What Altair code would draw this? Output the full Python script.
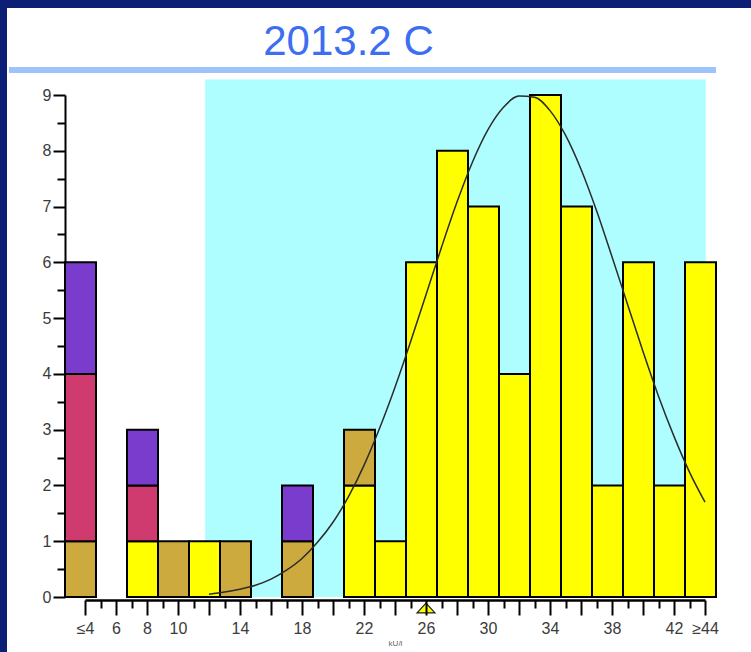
import altair as alt
import pandas as pd

# ---- data -------------------------------------------------------------
chart_title = "2013.2 C"
unit_label = "kU/l"

# histogram bins (kU/l); first and last bins are open-ended (≤4, ≥44)
bin_centres = [4, 6, 8, 10, 12, 14, 16, 18, 20, 22, 24, 26, 28, 30, 32, 34, 36, 38, 40, 42, 44]
groups = ["yellow", "ochre", "crimson", "violet"]
group_colours = ["#ffff00", "#cdaa3d", "#cf3b6f", "#7a3ccc"]
counts_yellow  = [0, 0, 1, 0, 1, 0, 0, 0, 0, 2, 1, 6, 8, 7, 4, 9, 7, 2, 6, 2, 6]
counts_ochre   = [1, 0, 0, 1, 0, 1, 0, 1, 0, 1, 0, 0, 0, 0, 0, 0, 0, 0, 0, 0, 0]
counts_crimson = [3, 0, 1, 0, 0, 0, 0, 0, 0, 0, 0, 0, 0, 0, 0, 0, 0, 0, 0, 0, 0]
counts_violet  = [2, 0, 1, 0, 0, 0, 0, 1, 0, 0, 0, 0, 0, 0, 0, 0, 0, 0, 0, 0, 0]

# fitted distribution curve
curve_x = list(range(12, 45))
curve_y = [0.05, 0.09, 0.14, 0.21, 0.32, 0.48, 0.69, 0.98, 1.34, 1.80, 2.36,
           3.02, 3.76, 4.57, 5.42, 6.27, 7.08, 7.80, 8.38, 8.78, 8.98, 8.96,
           8.72, 8.28, 7.67, 6.93, 6.10, 5.25, 4.40, 3.60, 2.88, 2.24, 1.70]

# acceptance range band and target value
band_from, band_to, band_top = 11.75, 44.05, 9.28
target_value = 26

# axis tick labels
x_labelled = [6, 8, 10, 14, 18, 22, 26, 30, 34, 38, 42]

# ---- tables -----------------------------------------------------------
bin_width = bin_centres[1] - bin_centres[0]
series = list(zip(groups, [counts_yellow, counts_ochre, counts_crimson, counts_violet]))
rows = []
for i, c in enumerate(bin_centres):
    base = 0
    for name, counts in series:
        n = counts[i]
        if n:
            rows.append({"lo": c - bin_width / 2, "hi": c + bin_width / 2,
                         "group": name, "y0": base, "y1": base + n})
            base += n
bars_df = pd.DataFrame(rows)
curve_df = pd.DataFrame({"x": curve_x, "y": curve_y})
band_df = pd.DataFrame({"lo": [band_from], "hi": [band_to], "b": [0], "t": [band_top]})
target_df = pd.DataFrame({"x": [target_value], "y": [0]})
heading_df = pd.DataFrame({"heading": [chart_title]})
one_row = pd.DataFrame({"k": [0]})

# ---- scales & axes ----------------------------------------------------
W, H = 620, 502
x_scale = alt.Scale(domain=[4, 44], nice=False, zero=False)
y_scale = alt.Scale(domain=[0, 9], nice=False, zero=True)
label_colour = "#3b3b3b"

x_axis = alt.Axis(
    values=list(range(4, 45)),
    labelExpr=("datum.value == 4 ? '≤4' : datum.value == 44 ? '≥44' : "
               "indexof(%s, datum.value) >= 0 ? datum.label : ''" % str(x_labelled)),
    labelOverlap=False, labelFlush=False, labelBound=False,
    labelFont="Liberation Sans", labelFontSize=16, labelColor=label_colour, labelPadding=5,
    tickSize=15, tickWidth=2, tickColor="black",
    tickDash={"condition": {"test": "datum.value % 2 == 1", "value": [8, 40]}, "value": []},
    domainColor="black", domainWidth=2.5, offset=3, grid=False, zindex=1,
    title=unit_label, titleFont="Liberation Sans", titleFontSize=8, titleFontWeight="normal",
    titleColor="#666666", titlePadding=3,
)
y_axis = alt.Axis(
    values=[i / 2 for i in range(19)],
    labelExpr="datum.value % 1 == 0 ? format(datum.value, 'd') : ''",
    labelFont="Liberation Sans", labelFontSize=16, labelColor=label_colour, labelPadding=2,
    tickSize=12, tickWidth=2, tickColor="black",
    tickDash={"condition": {"test": "datum.value % 1 != 0", "value": [8, 40]}, "value": []},
    domainColor="black", domainWidth=2, offset=20, grid=False, title=None,
)


def X(field):
    return alt.X(field, type="quantitative", scale=x_scale, axis=x_axis)


def Y(field):
    return alt.Y(field, type="quantitative", scale=y_scale, axis=y_axis)


# ---- page frame, divider and heading ----------------------------------
frame_top = alt.Chart(one_row).mark_rect(color="#0b1f74").encode(
    x=alt.value(-85), x2=alt.value(W + 46), y=alt.value(-95), y2=alt.value(-87))
frame_left = alt.Chart(one_row).mark_rect(color="#0b1f74").encode(
    x=alt.value(-85), x2=alt.value(-78), y=alt.value(-95), y2=alt.value(H + 55))
divider = alt.Chart(one_row).mark_rect(color="#9ec3fb").encode(
    x=alt.value(-76), x2=alt.value(631), y=alt.value(-28), y2=alt.value(-22))
heading = alt.Chart(heading_df).mark_text(
    font="Liberation Sans", fontSize=42, color="#3d6ef2", align="center", baseline="alphabetic"
).encode(text="heading:N", x=alt.value(263.5), y=alt.value(-40))

# ---- plot layers ------------------------------------------------------
band = alt.Chart(band_df).mark_rect(color="#aefeff").encode(
    x=X("lo"), x2="hi", y=Y("b"), y2="t")

bars = alt.Chart(bars_df).mark_bar(
    stroke="black", strokeWidth=2, xOffset=-4.5, x2Offset=-4.5, opacity=1
).encode(
    x=X("lo"), x2="hi", y=Y("y0"), y2="y1",
    color=alt.Color("group:N", scale=alt.Scale(domain=groups, range=group_colours), legend=None),
)

curve = alt.Chart(curve_df).mark_line(
    color="#2b2b2b", strokeWidth=1.5, interpolate="monotone"
).encode(x=X("x"), y=Y("y"))

marker = alt.Chart(target_df).mark_point(
    shape="M-1,0.55L0,-0.55L1,0.55Z", filled=True, fill="#ffff00", stroke="#1e1e1e",
    strokeWidth=1.2, size=320, opacity=1, yOffset=11
).encode(x=X("x"), y=Y("y"))

chart = alt.layer(
    frame_top, frame_left, divider, heading, band, bars, curve, marker
).properties(
    width=W, height=H,
    autosize=alt.AutoSizeParams(type="none"),
    padding={"left": 85, "top": 95, "right": 46, "bottom": 55},
    background="white",
).configure_view(stroke=None)

chart.save("out.html", embed_options={"renderer": "svg", "actions": False})
